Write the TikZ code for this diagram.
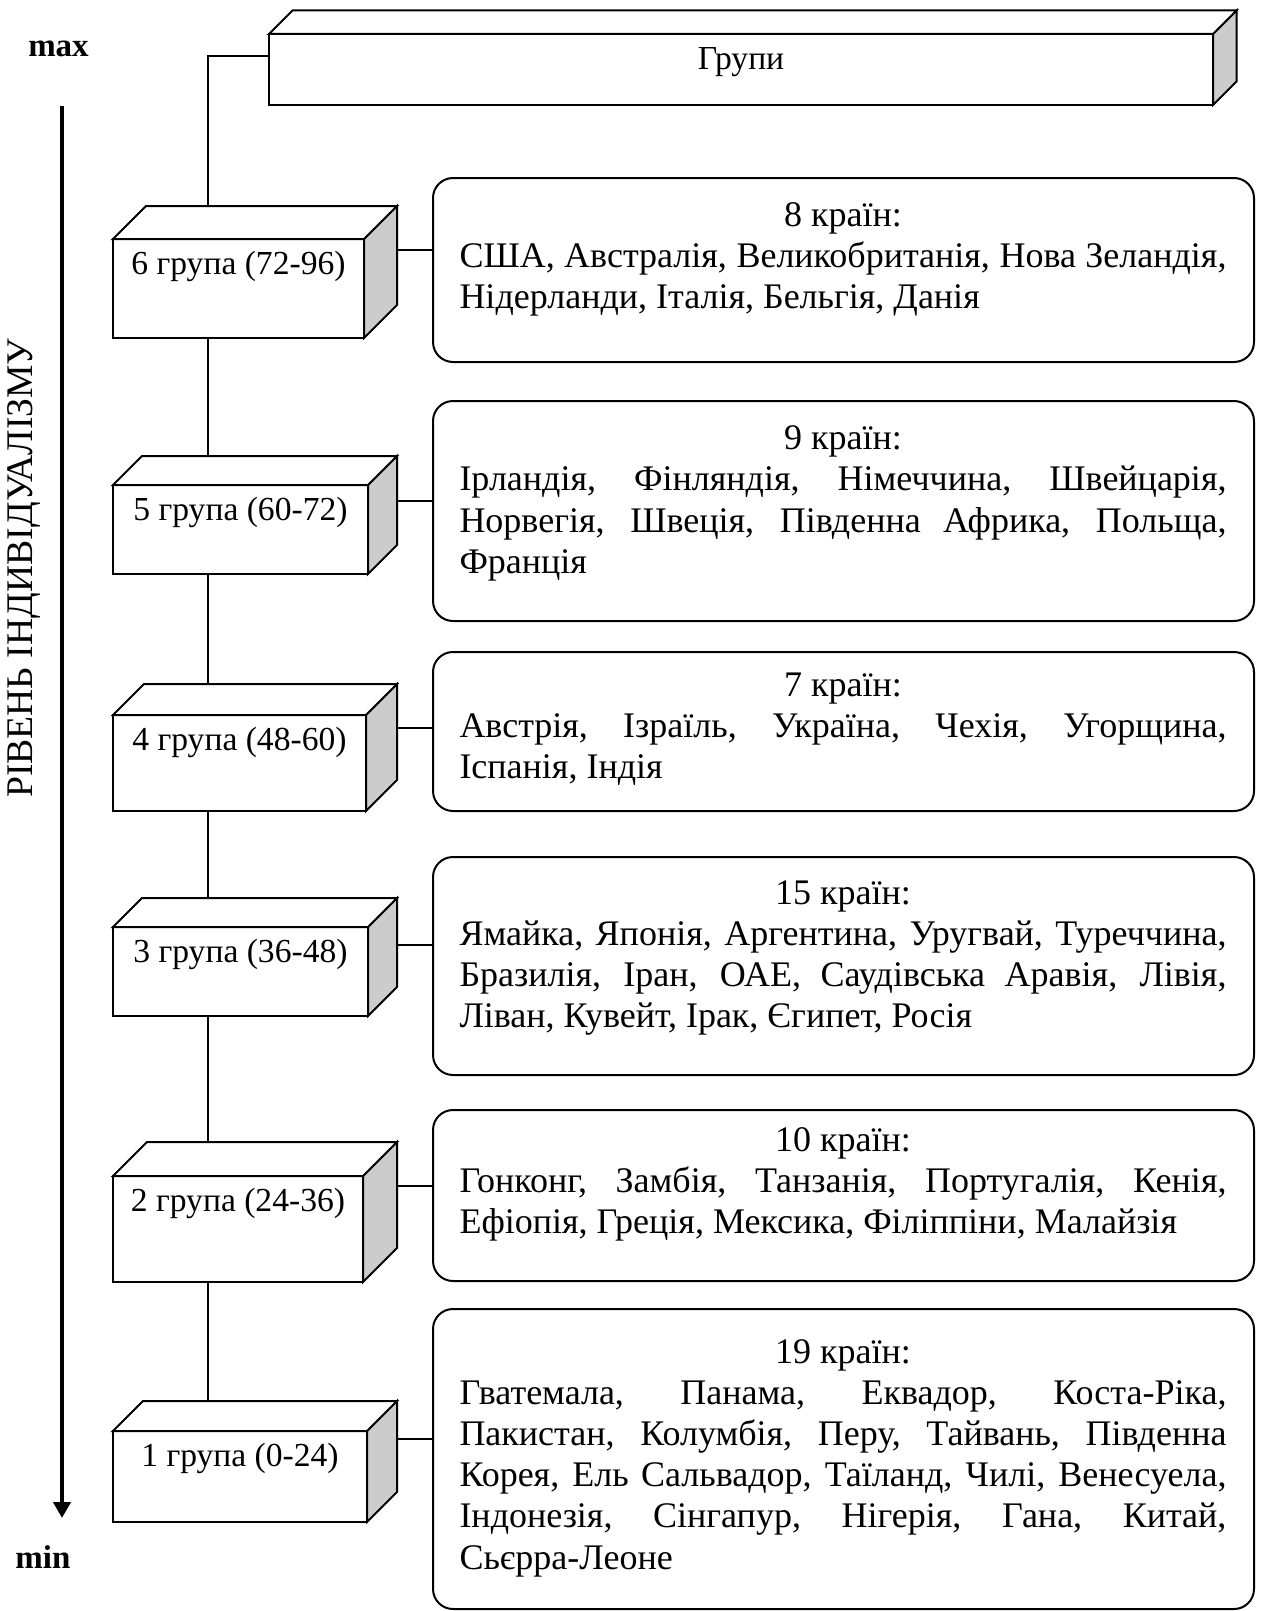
\documentclass[tikz,border=0pt]{standalone}
\usepackage{fontspec}
\setmainfont{Liberation Serif}
\usetikzlibrary{calc,arrows.meta}
\newlength\twd
\setlength\twd{383.5pt}
\newcommand\myJ[1]{\makebox[\twd][s]{#1}}
\newcommand\myC[1]{\makebox[\twd][c]{#1}}
\newcommand\myL[1]{\makebox[\twd][l]{#1}}
% name, cx, cy, width(pt), height(pt), depth(px), label
\newcommand\grpbox[7]{%
  \node[front, minimum width=#4pt, minimum height=#5pt] (#1) at (#2,#3) {};
  \draw[sidefc] (#1.north east) -- ++(#6,-#6) -- ($(#1.south east)+(#6,-#6)$) -- (#1.south east) -- cycle;
  \draw[topfc] (#1.north west) -- ++(#6,-#6) -- ($(#1.north east)+(#6,-#6)$) -- (#1.north east) -- cycle;
  \coordinate (#1b) at ($(#1.north west)+(#6,-#6)$);
  \node[grplabel, anchor=base] (#1t) at ($(#1.north)+(0,35.5)$) {#7};
}
\begin{document}
\begin{tikzpicture}[x=0.5pt,y=-0.5pt, line width=1pt,
  front/.style={draw, fill=white, rectangle, inner sep=0pt, outer sep=0pt},
  sidefc/.style={draw, fill=black!20},
  topfc/.style={draw, fill=white},
  grplabel/.style={font=\fontsize{16.8pt}{20.6pt}\selectfont, inner sep=0pt},
  rbox/.style={draw, rounded corners=10pt, inner sep=0pt, outer sep=0pt, minimum width=410.5pt},
  txt/.style={font=\fontsize{18pt}{20.6pt}\selectfont, inner sep=0pt},
  endlabel/.style={font=\bfseries\fontsize{16.5pt}{20pt}\selectfont, inner sep=0pt, anchor=base},
  conn/.style={line width=1pt}]

\useasboundingbox (0,0) rectangle (1264,1611);

% axis
\node[endlabel] (mx) at (58.5,57) {max};
\node[endlabel] (mn) at (43,1568) {min};
\coordinate (aTop) at (62,106);
\coordinate (aBot) at (62,1518);
\draw[line width=2pt, -{Triangle[length=8pt,width=8.5pt]}] (aTop) -- (aBot);
\node[rotate=90, font=\fontsize{18.8pt}{20pt}\selectfont, inner sep=0pt] (lvl) at (24,568) {РІВЕНЬ ІНДИВІДУАЛІЗМУ};

% top box
\node[front, minimum width=472pt, minimum height=35.5pt] (topbox) at (741,69.5) {};
\draw[sidefc] (topbox.north east) -- ++(23.5,-23.5) -- ($(topbox.south east)+(23.5,-23.5)$) -- (topbox.south east) -- cycle;
\draw[topfc] (topbox.north west) -- ++(23.5,-23.5) -- ($(topbox.north east)+(23.5,-23.5)$) -- (topbox.north east) -- cycle;
\node[grplabel] (topt) at (741,62) {Групи};

% group boxes
\grpbox{g6}{238.5}{288.5}{125.5}{49.5}{33}{6 група (72-96)}
\grpbox{g5}{240.5}{529.5}{127.5}{44.5}{29}{5 група (60-72)}
\grpbox{g4}{239.5}{763}{126.5}{48}{31}{4 група (48-60)}
\grpbox{g3}{240.5}{971.5}{127.5}{44.5}{29}{3 група (36-48)}
\grpbox{g2}{238}{1229}{125}{53}{34}{2 група (24-36)}
\grpbox{g1}{240}{1476.5}{127}{45.5}{30}{1 група (0-24)}

% rounded boxes
\node[rbox, minimum height=92pt] (r6) at (843.5,270) {};
\node[rbox, minimum height=110pt] (r5) at (843.5,511) {};
\node[rbox, minimum height=79.5pt] (r4) at (843.5,731.5) {};
\node[rbox, minimum height=109pt] (r3) at (843.5,966) {};
\node[rbox, minimum height=85.5pt] (r2) at (843.5,1195.5) {};
\node[rbox, minimum height=150pt] (r1) at (843.5,1459) {};

\node[txt] (t6) at (843,259.5) {\begin{minipage}{\twd}
\myC{8 країн:}\\
\myJ{США, Австралія, Великобританія, Нова Зеландія,}\\
\myL{Нідерланди, Італія, Бельгія, Данія}\end{minipage}};

\node[txt] (t5) at (843,503.5) {\begin{minipage}{\twd}
\myC{9 країн:}\\
\myJ{Ірландія, Фінляндія, Німеччина, Швейцарія,}\\
\myJ{Норвегія, Швеція, Південна Африка, Польща,}\\
\myL{Франція}\end{minipage}};

\node[txt] (t4) at (843,729) {\begin{minipage}{\twd}
\myC{7 країн:}\\
\myJ{Австрія, Ізраїль, Україна, Чехія, Угорщина,}\\
\myL{Іспанія, Індія}\end{minipage}};

\node[txt] (t3) at (843,958) {\begin{minipage}{\twd}
\myC{15 країн:}\\
\myJ{Ямайка, Японія, Аргентина, Уругвай, Туреччина,}\\
\myJ{Бразилія, Іран, ОАЕ, Саудівська Аравія, Лівія,}\\
\myL{Ліван, Кувейт, Ірак, Єгипет, Росія}\end{minipage}};

\node[txt] (t2) at (843,1184.5) {\begin{minipage}{\twd}
\myC{10 країн:}\\
\myJ{Гонконг, Замбія, Танзанія, Португалія, Кенія,}\\
\myL{Ефіопія, Греція, Мексика, Філіппіни, Малайзія}\end{minipage}};

\node[txt] (t1) at (843,1458) {\begin{minipage}{\twd}
\myC{19 країн:}\\
\myJ{Гватемала, Панама, Еквадор, Коста-Ріка,}\\
\myJ{Пакистан, Колумбія, Перу, Тайвань, Південна}\\
\myJ{Корея, Ель Сальвадор, Таїланд, Чилі, Венесуела,}\\
\myJ{Індонезія, Сінгапур, Нігерія, Гана, Китай,}\\
\myL{Сьєрра-Леоне}\end{minipage}};

% spine
\coordinate (sp) at (208,0);
\draw[conn] ([yshift=6.75pt]topbox.west) -| (g6b -| sp);
\draw[conn] (g6.south -| sp) -- (g5b -| sp);
\draw[conn] (g5.south -| sp) -- (g4b -| sp);
\draw[conn] (g4.south -| sp) -- (g3b -| sp);
\draw[conn] (g3.south -| sp) -- (g2b -| sp);
\draw[conn] (g2.south -| sp) -- (g1b -| sp);

% horizontal connectors
\coordinate (c6) at (397,250);
\coordinate (c5) at (397,501);
\coordinate (c4) at (397,728);
\coordinate (c3) at (397,945);
\coordinate (c2) at (397,1186);
\coordinate (c1) at (397,1439);
\draw[conn] (c6) -- (c6 -| r6.west);
\draw[conn] (c5) -- (c5 -| r5.west);
\draw[conn] (c4) -- (c4 -| r4.west);
\draw[conn] (c3) -- (c3 -| r3.west);
\draw[conn] (c2) -- (c2 -| r2.west);
\draw[conn] (c1) -- (c1 -| r1.west);
\end{tikzpicture}
\end{document}
